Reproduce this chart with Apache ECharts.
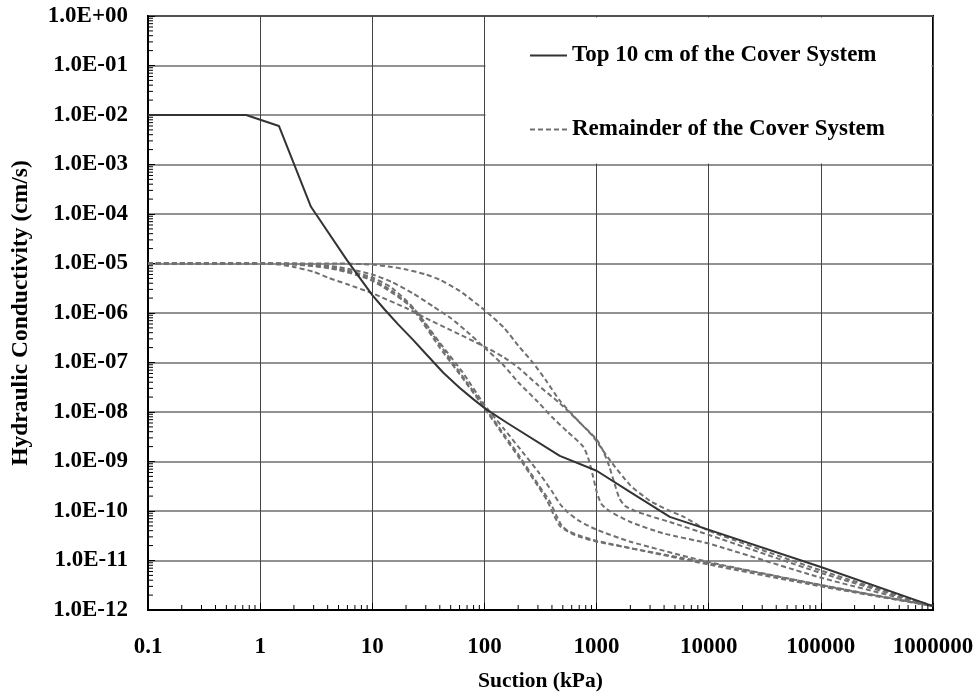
<!DOCTYPE html>
<html lang="en">
<head>
<meta charset="UTF-8">
<title>Hydraulic Conductivity Functions</title>
<script src="https://cdn.jsdelivr.net/npm/echarts@6/dist/echarts.min.js"></script>
<style>
    html, body { margin: 0; padding: 0; background: #fff; }
    #main { width: 976px; height: 693px; }
</style>
</head>
<body>
<div id="main"></div>
<script>
    // suction (kPa) vs hydraulic conductivity (cm/s)
    const topCover = [[0.1, 1e-2], [0.75, 1e-2], [1.47, 6e-3], [2.84, 1.4e-4], [5.9, 1.2e-5], [8, 4.6e-6],
        [10, 2.3e-6], [13, 1.15e-6], [17, 5.9e-7], [23, 2.9e-7], [30, 1.5e-7], [43, 6.2e-8], [60, 3.1e-8],
        [80, 1.8e-8], [100, 1.2e-8], [160, 6e-9], [470, 1.3e-9], [1000, 6.5e-10], [2000, 2.4e-10],
        [4500, 7.6e-11], [1e5, 7.4e-12], [1e6, 1.2e-12]];

    const remA = [[0.1, 1e-5], [5, 1e-5], [10, 9.5e-6], [15, 8.5e-6], [20, 7.6e-6], [30, 6e-6], [40, 4.7e-6],
        [60, 2.8e-6], [100, 1.15e-6], [150, 5e-7], [200, 2.2e-7], [270, 1e-7], [350, 4.5e-8], [470, 1.7e-8],
        [700, 6.3e-9], [1000, 2.8e-9], [1150, 1.6e-9], [1300, 7.9e-10], [1450, 3.5e-10], [1600, 1.8e-10],
        [1800, 1.26e-10], [2200, 1e-10], [3000, 7.9e-11], [4500, 6e-11], [1e4, 3.3e-11], [1e5, 5.6e-12], [1e6, 1.2e-12]];
    const remB = [[0.1, 1e-5], [1, 1e-5], [1.5, 9.5e-6], [2, 8.5e-6], [3, 6.8e-6], [4, 5.2e-6], [6, 3.8e-6],
        [10, 2.5e-6], [20, 1.26e-6], [30, 7.9e-7], [50, 4.5e-7], [100, 2.1e-7], [150, 1.26e-7], [200, 7.9e-8],
        [300, 3.5e-8], [470, 1.5e-8], [700, 6.3e-9], [930, 3.2e-9], [1300, 1.1e-9], [2000, 3.3e-10],
        [3000, 1.6e-10], [4300, 1.05e-10], [6000, 7.6e-11], [1e4, 4e-11], [1e5, 6.3e-12], [1e6, 1.2e-12]];
    const remC = [[0.1, 1e-5], [2, 1e-5], [3, 9.5e-6], [5, 8.5e-6], [10, 6e-6], [15, 4.2e-6], [23, 2.5e-6],
        [35, 1.35e-6], [50, 7.9e-7], [70, 4.2e-7], [100, 2e-7], [150, 8.5e-8], [200, 4e-8], [300, 1.6e-8],
        [400, 7.9e-9], [550, 4e-9], [760, 2e-9], [850, 1.1e-9], [930, 5e-10], [1000, 2.5e-10], [1100, 1.4e-10],
        [1300, 1e-10], [2000, 6e-11], [4000, 3.5e-11], [1e4, 2.2e-11], [1e5, 4.5e-12], [1e6, 1.2e-12]];
    const remD = [[0.1, 1e-5], [1.5, 1e-5], [3, 8.9e-6], [5, 7.4e-6], [10, 4.5e-6], [23, 1.26e-6], [40, 2.5e-7],
        [64, 6.3e-8], [100, 1.4e-8], [150, 4.5e-9], [200, 2e-9], [300, 6.3e-10], [400, 2.5e-10], [470, 1.4e-10],
        [550, 9.5e-11], [700, 6.3e-11], [1000, 4.2e-11], [2000, 2.4e-11], [1e4, 9.3e-12], [1e5, 3.2e-12], [1e6, 1.2e-12]];
    const remE1 = [[0.1, 1e-5], [1, 1e-5], [2, 9.5e-6], [4, 8.3e-6], [7, 6.3e-6], [10, 4.8e-6], [15, 2.8e-6],
        [23, 1.2e-6], [40, 2e-7], [64, 4.8e-8], [100, 1.2e-8], [150, 3.2e-9], [200, 1.26e-9], [300, 3.2e-10],
        [360, 1.66e-10], [420, 7.9e-11], [470, 5e-11], [520, 4.2e-11], [600, 3.5e-11], [710, 3e-11],
        [1000, 2.4e-11], [1e4, 8.9e-12], [1e5, 3.2e-12], [1e6, 1.2e-12]];
    const remE2 = [[0.1, 1e-5], [1.2, 1e-5], [2.5, 9.5e-6], [5, 7.9e-6], [10, 5.2e-6], [15, 3.2e-6], [23, 1.3e-6],
        [40, 2.3e-7], [64, 5.2e-8], [100, 1.26e-8], [150, 3.5e-9], [200, 1.4e-9], [300, 3.5e-10], [380, 1.6e-10],
        [440, 7.9e-11], [490, 5e-11], [550, 4e-11], [700, 3.2e-11], [1000, 2.5e-11], [1e4, 8.3e-12],
        [1e5, 3e-12], [1e6, 1.2e-12]];
    const remainder = [remA, remB, remC, remD, remE1, remE2];

    const TOP_NAME = 'Top 10 cm of the Cover System';
    const REST_NAME = 'Remainder of the Cover System';
    const FONT = 'Liberation Serif';
    const SOLID = '#333';
    const GREY = '#707070';

    // log minor ticks (2..9 in each decade)
    const xMinor = [], yMinor = [];
    for (let e = -1; e < 6; e++) for (let k = 2; k < 10; k++) xMinor.push(k * Math.pow(10, e));
    for (let e = -12; e < 0; e++) for (let k = 2; k < 10; k++) yMinor.push(k * Math.pow(10, e));

    const expLabel = v => {
        const e = Math.round(Math.log10(v));
        return '1.0E' + (e < 0 ? '-' : '+') + String(Math.abs(e)).padStart(2, '0');
    };

    const chart = echarts.init(document.getElementById('main'));

    const series = [{
        name: TOP_NAME, type: 'line', data: topCover, symbol: 'none', z: 4,
        lineStyle: {color: SOLID, width: 2}, itemStyle: {color: SOLID}
    }];
    remainder.forEach(d => series.push({
        name: REST_NAME, type: 'line', data: d, symbol: 'none', smooth: 0.2, z: 3,
        lineStyle: {color: GREY, width: 2, type: [5, 3]}, itemStyle: {color: GREY}
    }));
    series.push({
        type: 'custom', silent: true, z: 5,
        data: xMinor.map(v => [v, 1e-12]),
        renderItem: (params, api) => {
            const p = api.coord([api.value(0), api.value(1)]);
            return {type: 'line', shape: {x1: p[0], y1: p[1], x2: p[0], y2: p[1] - 5}, style: {stroke: '#000', lineWidth: 1}};
        }
    });
    series.push({
        type: 'custom', silent: true, z: 5,
        data: yMinor.map(v => [0.1, v]),
        renderItem: (params, api) => {
            const p = api.coord([api.value(0), api.value(1)]);
            return {type: 'line', shape: {x1: p[0], y1: p[1], x2: p[0] + 5, y2: p[1]}, style: {stroke: '#000', lineWidth: 1}};
        }
    });

    const dashIcon = 'path://M0,0h5v2h-5z M8,0h5v2h-5z M16,0h5v2h-5z M24,0h5v2h-5z M32,0h5v2h-5z';

    chart.setOption({
        animation: false,
        backgroundColor: '#fff',
        grid: {left: 148, right: 43, top: 16, bottom: 83, outerBoundsMode: 'none', containLabel: false,
            show: true, borderColor: '#000', borderWidth: 2},
        legend: {
            data: [{name: TOP_NAME, icon: 'rect'}, {name: REST_NAME, icon: dashIcon}],
            orient: 'vertical', left: 525, top: 39, itemGap: 51, itemWidth: 37, itemHeight: 2,
            selectedMode: false,
            textStyle: {fontFamily: FONT, fontWeight: 'bold', fontSize: 23, color: '#000'}
        },
        xAxis: {
            type: 'log', logBase: 10, min: 0.1, max: 1e6, interval: 1,
            name: 'Suction (kPa)', nameLocation: 'middle', nameGap: 60,
            nameTextStyle: {fontFamily: FONT, fontWeight: 'bold', fontSize: 21.5, color: '#000'},
            axisLine: {lineStyle: {color: '#000', width: 2}},
            axisTick: {inside: true, length: 7, lineStyle: {color: '#000'}},
            axisLabel: {margin: 26, fontFamily: FONT, fontWeight: 'bold', fontSize: 23, color: '#000',
                formatter: v => String(+(+v).toPrecision(6))},
            splitLine: {show: true, lineStyle: {color: '#444', width: 1}}
        },
        yAxis: {
            type: 'log', logBase: 10, min: 1e-12, max: 1, interval: 1,
            name: 'Hydraulic Conductivity (cm/s)', nameLocation: 'middle', nameGap: 115,
            nameTextStyle: {fontFamily: FONT, fontWeight: 'bold', fontSize: 23.5, color: '#000'},
            axisLine: {lineStyle: {color: '#000', width: 2}},
            axisTick: {inside: true, length: 7, lineStyle: {color: '#000'}},
            axisLabel: {margin: 20, fontFamily: FONT, fontWeight: 'bold', fontSize: 23, color: '#000', formatter: expLabel},
            splitLine: {show: true, lineStyle: {color: '#6e6e6e', width: 1.5}}
        },
        series: series
    });

    // white panel behind the legend, masking the grid
    const p1 = chart.convertToPixel({gridIndex: 0}, [100, 1]);
    const p2 = chart.convertToPixel({gridIndex: 0}, [1e6, 1e-3]);
    chart.setOption({
        graphic: [{
            type: 'rect', z: 1, silent: true,
            shape: {x: p1[0] + 1, y: p1[1] + 1.5, width: p2[0] - p1[0] - 2.5, height: p2[1] - p1[1] - 2.5},
            style: {fill: '#fff'}
        }]
    });
</script>
</body>
</html>
